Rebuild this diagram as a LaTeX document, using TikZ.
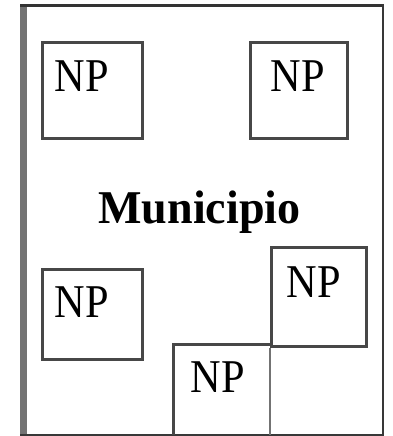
\documentclass[tikz,border=0pt]{standalone}
\usepackage{fontspec}
\setmainfont{Liberation Serif}
\begin{document}
\begin{tikzpicture}[x=1pt,y=-1pt,
  npbox/.style={draw=black!72, line width=3pt, inner sep=0pt},
  nptext/.style={font=\fontsize{47}{47}\selectfont, inner sep=0pt, anchor=base, xscale=0.9},
  frameline/.style={draw=black!78, line width=2pt}]
\useasboundingbox (0,0) rectangle (392,436);
% outer frame
\fill[black!55] (20,4) rectangle (26.5,435);
\draw[black!80, line width=3.5pt] (20,5.5) -- (384,5.5);
\draw[frameline] (383,4) -- (383,435);
\draw[frameline] (20,434.5) -- (384,434.5);
% boxes
\node[npbox, minimum width=100pt, minimum height=96pt, anchor=north west] (b1) at (41,41) {};
\node[npbox, minimum width=97pt, minimum height=96pt, anchor=north west] (b2) at (249,41) {};
\node[npbox, minimum width=100pt, minimum height=90pt, anchor=north west] (b3) at (41,268) {};
\node[npbox, minimum width=95pt, minimum height=99pt, anchor=north west] (b4) at (270,246) {};
\coordinate (b5bl) at (173.5,435);
\coordinate (b5tr) at (270,344.5);
\coordinate (b4bot) at (270,435);
\draw[draw=black!72, line width=3pt] (b5bl) |- (b5tr);
\draw[draw=black!55, line width=2pt] (b4.south west) -- (b4bot);
% texts
\node[nptext] (t1) at (82,92) {NP};
\node[nptext] (t2) at (298,92) {NP};
\node[nptext] (t3) at (82,317) {NP};
\node[nptext] (t4) at (314,297) {NP};
\node[nptext] (t5) at (218,392) {NP};
\node[font=\fontsize{47}{47}\selectfont\bfseries, inner sep=0pt, anchor=base, xscale=0.98] (m) at (199.5,223) {Municipio};
\end{tikzpicture}
\end{document}
